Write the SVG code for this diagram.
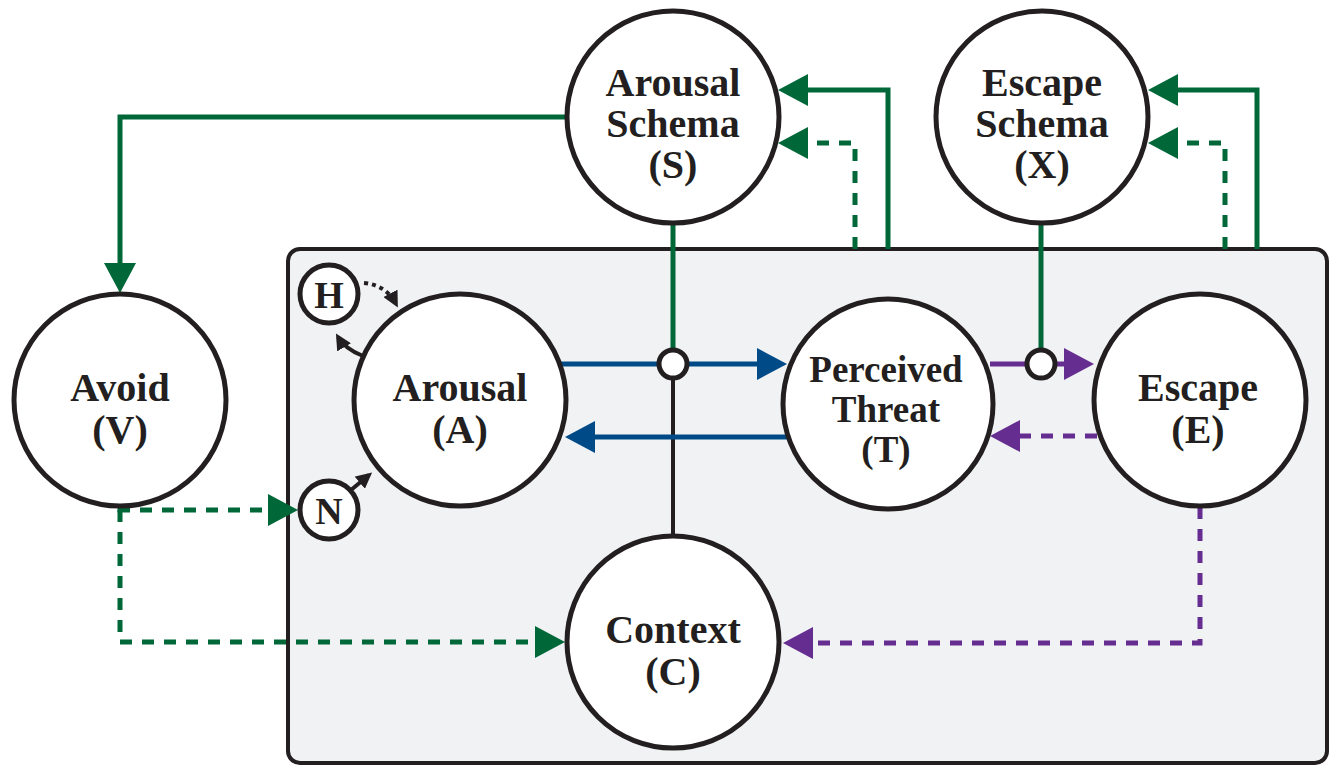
<svg xmlns="http://www.w3.org/2000/svg" width="1330" height="767" viewBox="0 0 1330 767">
<style>
.node{fill:#fff;stroke:#231f20;stroke-width:5}
.lbl{font-family:"Liberation Serif","Times New Roman",serif;font-weight:bold;font-size:40px;fill:#231f20;text-anchor:middle}
.g{stroke:#006838;fill:none;stroke-width:5}
.b{stroke:#004a87;fill:none;stroke-width:5}
.p{stroke:#662d91;fill:none;stroke-width:5}
.k{stroke:#231f20;fill:none;stroke-width:4}
.dash{stroke-dasharray:12 10}
</style>
<defs>
<marker id="ag" markerUnits="userSpaceOnUse" viewBox="0 0 30 32" markerWidth="30" markerHeight="32" refX="24" refY="16" orient="auto"><path d="M0,0 L30,16 L0,32 z" fill="#006838"/></marker>
<marker id="ab" markerUnits="userSpaceOnUse" viewBox="0 0 30 32" markerWidth="30" markerHeight="32" refX="24" refY="16" orient="auto"><path d="M0,0 L30,16 L0,32 z" fill="#004a87"/></marker>
<marker id="ap" markerUnits="userSpaceOnUse" viewBox="0 0 30 32" markerWidth="30" markerHeight="32" refX="24" refY="16" orient="auto"><path d="M0,0 L30,16 L0,32 z" fill="#662d91"/></marker>
<marker id="ak" markerUnits="userSpaceOnUse" viewBox="0 0 16 16" markerWidth="16" markerHeight="16" refX="12" refY="8" orient="auto"><path d="M0,0 L16,8 L0,16 z" fill="#231f20"/></marker>
</defs>
<rect x="288" y="249" width="1039" height="514" rx="12" fill="#f1f2f4" stroke="#231f20" stroke-width="4"/>
<g id="connectors">
<path class="g" d="M567,117 H120 V287" marker-end="url(#ag)"/>
<path class="g" d="M888,249 V90 H784" marker-end="url(#ag)"/>
<path class="g dash" d="M855,249 V143 H784" marker-end="url(#ag)"/>
<path class="g" d="M1257,249 V90 H1154" marker-end="url(#ag)"/>
<path class="g dash" d="M1225,249 V143 H1154" marker-end="url(#ag)"/>
<path class="g" d="M673,223 V363"/>
<path class="g" d="M1041,224 V363"/>
<path class="k" d="M673,363 V536"/>
<path class="b" d="M560,364 H781" marker-end="url(#ab)"/>
<path class="b" d="M790,437 H571" marker-end="url(#ab)"/>
<path class="p" d="M990,364 H1088" marker-end="url(#ap)"/>
<path class="p dash" d="M1097,436 H996" marker-end="url(#ap)"/>
<path class="p dash" d="M1200,507 V643 H789" marker-end="url(#ap)"/>
<path class="g dash" d="M120,508 V510 H292" marker-end="url(#ag)"/>
<path class="g dash" d="M120,510 V642 H559" marker-end="url(#ag)"/>
<path class="k" d="M363,356 Q345,349 338,337" marker-end="url(#ak)"/>
<path class="k" d="M364,283 Q386,285 396,304" stroke-dasharray="4 4" marker-end="url(#ak)"/>
<path class="k" d="M351,490 L369,475" marker-end="url(#ak)"/>
</g>
<g id="junction1"><circle cx="673" cy="364" r="14" fill="#fff" stroke="#231f20" stroke-width="5"/></g>
<g id="junction2"><circle cx="1041" cy="364" r="14" fill="#fff" stroke="#231f20" stroke-width="5"/></g>
<g id="node-S"><circle class="node" cx="673" cy="117" r="106"/><text class="lbl" x="673" y="96">Arousal</text><text class="lbl" x="673" y="137">Schema</text><text class="lbl" x="673" y="178">(S)</text></g>
<g id="node-X"><circle class="node" cx="1042" cy="117" r="106"/><text class="lbl" x="1042" y="96">Escape</text><text class="lbl" x="1042" y="137">Schema</text><text class="lbl" x="1042" y="178">(X)</text></g>
<g id="node-V"><circle class="node" cx="120" cy="400" r="106"/><text class="lbl" x="120" y="401">Avoid</text><text class="lbl" x="120" y="443">(V)</text></g>
<g id="node-A"><circle class="node" cx="460" cy="400" r="106"/><text class="lbl" x="460" y="401">Arousal</text><text class="lbl" x="460" y="443">(A)</text></g>
<g id="node-T"><circle class="node" cx="888" cy="404" r="105"/><text class="lbl" x="886" y="382" style="font-size:37px">Perceived</text><text class="lbl" x="886" y="422" style="font-size:37px">Threat</text><text class="lbl" x="886" y="462" style="font-size:37px">(T)</text></g>
<g id="node-E"><circle class="node" cx="1200" cy="400" r="106"/><text class="lbl" x="1198" y="401">Escape</text><text class="lbl" x="1198" y="443">(E)</text></g>
<g id="node-C"><circle class="node" cx="673" cy="642" r="106"/><text class="lbl" x="673" y="643">Context</text><text class="lbl" x="673" y="685">(C)</text></g>
<g id="node-H"><circle class="node" cx="329" cy="294" r="29"/><text class="lbl" x="329" y="308" style="font-size:38px">H</text></g>
<g id="node-N"><circle class="node" cx="329" cy="510" r="29"/><text class="lbl" x="329" y="524" style="font-size:38px">N</text></g>
</svg>
